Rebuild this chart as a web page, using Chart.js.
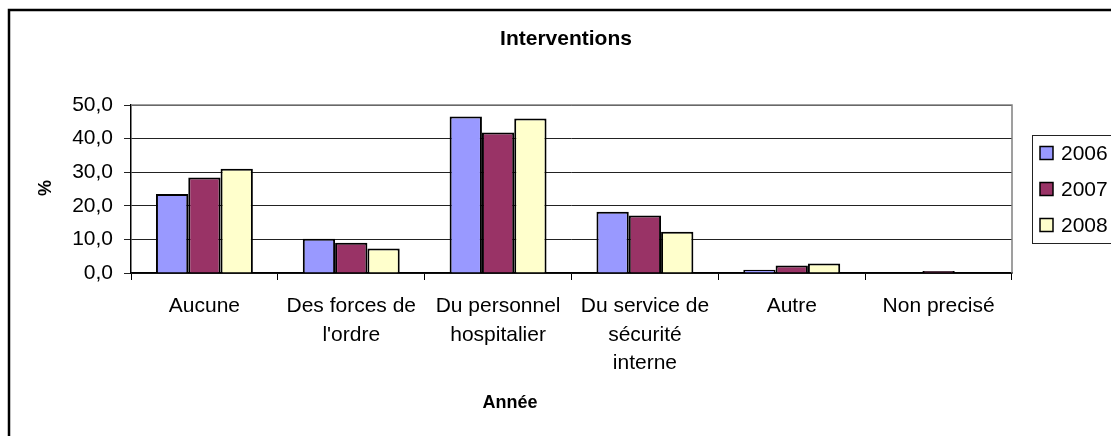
<!DOCTYPE html>
<html>
<head>
<meta charset="utf-8">
<script src="https://cdn.jsdelivr.net/npm/chart.js@4/dist/chart.umd.min.js"></script>
<style>
  html, body { margin: 0; padding: 0; background: #ffffff; }
  canvas { display: block; }
</style>
</head>
<body>
<canvas id="chart" width="1111" height="436"></canvas>
<script>
// Data
const categories = [
    ['Aucune'],
    ['Des forces de', "l'ordre"],
    ['Du personnel', 'hospitalier'],
    ['Du service de', 'sécurité', 'interne'],
    ['Autre'],
    ['Non precisé']
];
const seriesNames = ['2006', '2007', '2008'];
const values2006 = [23.5, 10.2, 46.6, 18.2, 1.0, 0.0];
const values2007 = [28.4, 9.0, 41.8, 17.1, 2.2, 0.6];
const values2008 = [31.0, 7.3, 46.0, 12.3, 2.8, 0.0];
const yTicks = [0, 10, 20, 30, 40, 50];

const seriesColors = ['#9999FF', '#993366', '#FFFFCC'];
const FONT = 'Arial, "Liberation Sans", sans-serif';

// Frame, titles, plot border and boxed legend, drawn the Excel way
const decorations = {
    id: 'decorations',
    afterDraw(chart) {
        const ctx = chart.ctx;
        const area = chart.chartArea;
        ctx.save();

        // outer chart frame (only top/left visible)
        ctx.strokeStyle = '#000000';
        ctx.lineWidth = 2.5;
        ctx.strokeRect(9, 10, 1400, 1000);

        // plot area border top/right
        ctx.strokeStyle = '#808080';
        ctx.lineWidth = 1.5;
        ctx.beginPath();
        ctx.moveTo(area.left, area.top);
        ctx.lineTo(area.right, area.top);
        ctx.lineTo(area.right, area.bottom);
        ctx.stroke();

        // main title
        ctx.fillStyle = '#000000';
        ctx.font = 'bold 21px ' + FONT;
        ctx.textAlign = 'center';
        ctx.textBaseline = 'alphabetic';
        ctx.fillText('Interventions', 566, 45);

        // x axis title
        ctx.font = 'bold 18px ' + FONT;
        ctx.fillText('Année', 510, 408);

        // y axis title
        ctx.save();
        ctx.translate(46, 188);
        ctx.rotate(-Math.PI / 2);
        ctx.textBaseline = 'middle';
        ctx.fillText('%', 0, 0);
        ctx.restore();

        // legend box
        ctx.strokeStyle = '#222222';
        ctx.lineWidth = 1;
        ctx.strokeRect(1032.5, 135.5, 200, 108);
        ctx.font = '21px ' + FONT;
        ctx.textAlign = 'left';
        ctx.textBaseline = 'middle';
        chart.data.datasets.forEach((ds, i) => {
            const cy = 153 + i * 36;
            ctx.fillStyle = ds.backgroundColor;
            ctx.fillRect(1040, cy - 6.5, 13, 13);
            ctx.strokeStyle = '#000000';
            ctx.lineWidth = 1.5;
            ctx.strokeRect(1040, cy - 6.5, 13, 13);
            ctx.fillStyle = '#000000';
            ctx.fillText(ds.label, 1061, cy + 1);
        });

        ctx.restore();
    }
};

const ctx = document.getElementById('chart').getContext('2d');
new Chart(ctx, {
    type: 'bar',
    data: {
        labels: categories,
        datasets: [values2006, values2007, values2008].map((vals, i) => ({
            label: seriesNames[i],
            data: vals,
            backgroundColor: seriesColors[i],
            borderColor: '#000000',
            borderWidth: vals.map(v => (v > 0 ? 2 : 0)),
            categoryPercentage: 0.66,
            barPercentage: 1.0
        }))
    },
    options: {
        responsive: false,
        animation: false,
        devicePixelRatio: 1,
        layout: {
            padding: { left: 0, top: 105, right: 99, bottom: 0 }
        },
        plugins: {
            legend: { display: false },
            title: { display: false },
            tooltip: { enabled: false }
        },
        scales: {
            x: {
                afterFit: (scale) => { scale.height = 163; },
                grid: {
                    display: true,
                    offset: true,
                    drawOnChartArea: false,
                    drawTicks: true,
                    tickLength: 7,
                    color: '#000000',
                    lineWidth: 1
                },
                border: { display: true, color: '#000000', width: 1.5 },
                ticks: {
                    color: '#000000',
                    font: { family: FONT, size: 21, lineHeight: 1.36 },
                    padding: 12,
                    maxRotation: 0,
                    autoSkip: false
                }
            },
            y: {
                min: 0,
                max: 50,
                afterFit: (scale) => { scale.width = 131; },
                afterBuildTicks: (scale) => {
                    scale.ticks = yTicks.map(v => ({ value: v }));
                },
                grid: {
                    color: '#222222',
                    lineWidth: 1,
                    drawTicks: true,
                    tickLength: 7
                },
                border: { display: true, color: '#000000', width: 1.5 },
                ticks: {
                    color: '#000000',
                    font: { family: FONT, size: 21 },
                    padding: 11,
                    callback: (value) => value.toFixed(1).replace('.', ',')
                }
            }
        }
    },
    plugins: [decorations]
});
</script>
</body>
</html>
